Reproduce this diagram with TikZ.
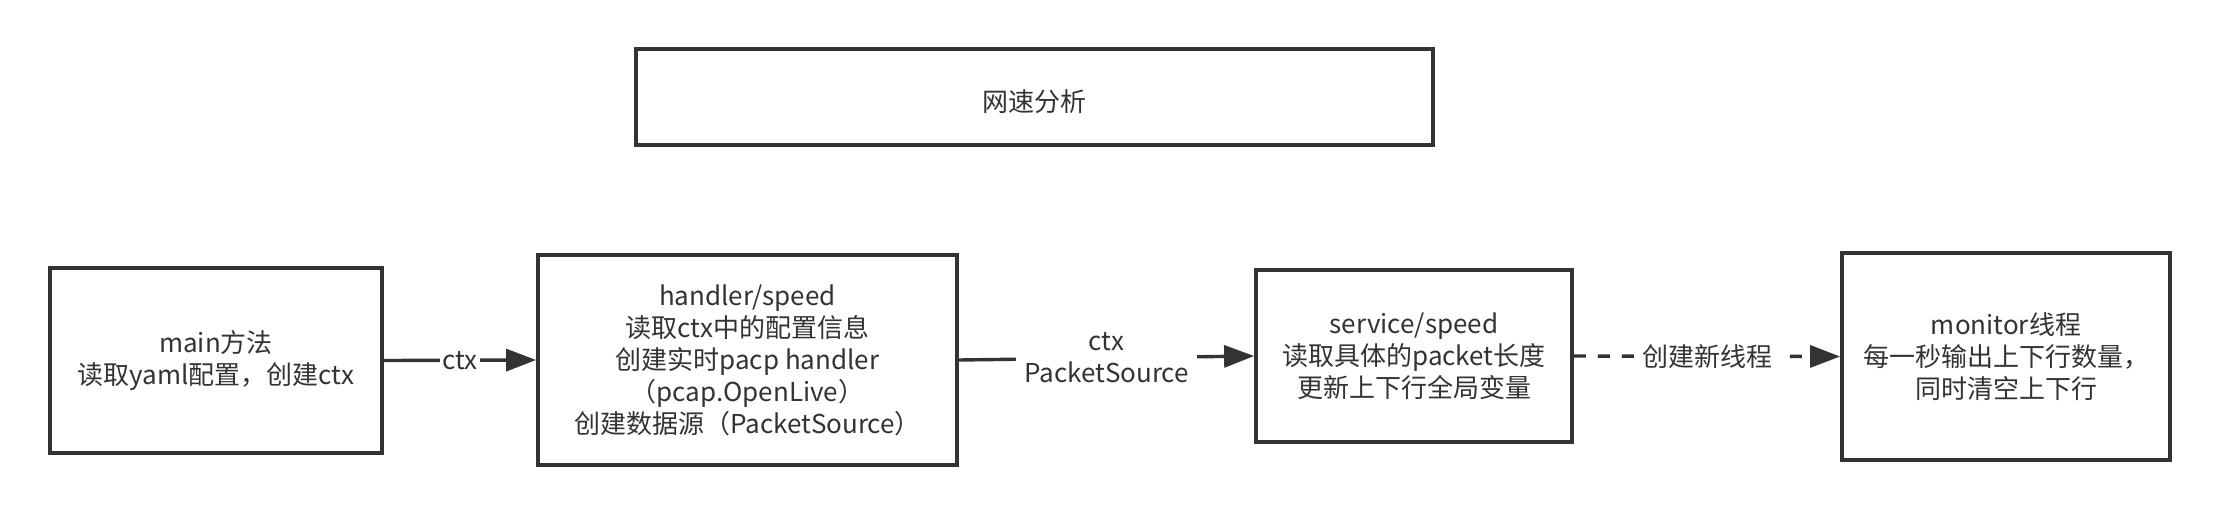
\documentclass[tikz,border=0pt]{standalone}
\usepackage{fontspec}
\setmainfont{Noto Sans CJK SC}
\usetikzlibrary{arrows.meta}
\definecolor{ink}{HTML}{333333}
\begin{document}
\begin{tikzpicture}[x=0.5pt,y=-0.5pt,
  box/.style={draw=ink,line width=1.9pt,fill=white,align=center,text=ink,
    font=\fontsize{13pt}{16pt}\selectfont,inner sep=0pt,
    execute at begin node={\rule{0pt}{15.4pt}}},
  conn/.style={draw=ink,line width=1.7pt,-{Triangle[length=15pt,width=11pt]}},
  lbl/.style={fill=white,text=ink,align=center,inner sep=1pt,
    font=\fontsize{13pt}{16pt}\selectfont}]
\useasboundingbox[fill=white] (0,0) rectangle (2220,515);
\node[box,minimum width=398.5pt,minimum height=48pt] (title) at (1034.5,97) {网速分析};
\node[box,minimum width=166pt,minimum height=92.5pt] (b1) at (216,360.5) {main方法\\读取yaml配置，创建ctx};
\node[box,minimum width=209.5pt,minimum height=105pt] (b2) at (747.5,360) {handler/speed\\读取ctx中的配置信息\\创建实时pacp handler\\（pcap.OpenLive）\\创建数据源（PacketSource）};
\node[box,minimum width=158pt,minimum height=86pt] (b3) at (1414,356) {service/speed\\读取具体的packet长度\\更新上下行全局变量};
\node[box,minimum width=164pt,minimum height=103.5pt] (b4) at (2006,356.5) {monitor线程\\每一秒输出上下行数量，\\同时清空上下行};
\draw[conn] (b1.east) -- node[lbl] (l1) {ctx} (b2.west);
\draw[conn] (b2.east) -- node[lbl,inner sep=4pt] (l2) {ctx\\PacketSource} (b3.west);
\draw[conn,dash pattern=on 6pt off 6pt] (b3.east) -- node[lbl,inner sep=3pt] (l3) {创建新线程} (b4.west);
\end{tikzpicture}
\end{document}
